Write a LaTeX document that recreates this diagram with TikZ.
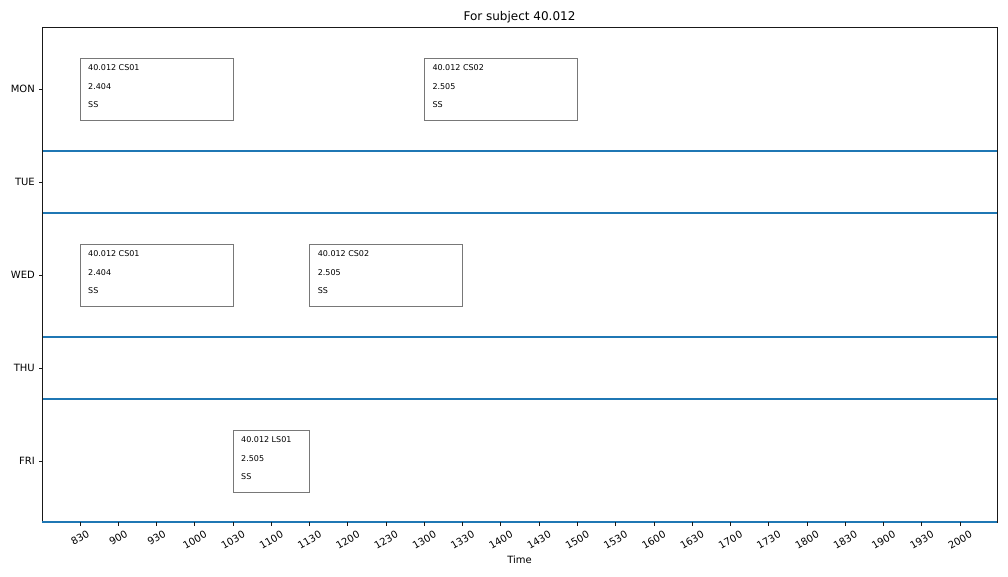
\documentclass[tikz,border=0pt]{standalone}
\usepackage{fontspec}
\setmainfont{DejaVu Sans}
\begin{document}
\begin{tikzpicture}[x=1pt,y=-1pt,
  spine/.style={draw=black!90,line width=0.9pt},
  dayline/.style={draw={rgb,255:red,31;green,119;blue,180},line width=1.5pt},
  slot/.style={draw={rgb,255:red,120;green,120;blue,120},line width=0.8pt},
  slottext/.style={anchor=west,font=\fontsize{8}{9}\selectfont,inner sep=0pt},
  ticklab/.style={rotate=30,font=\fontsize{10}{12}\selectfont,inner sep=0pt},
  daylab/.style={anchor=east,font=\fontsize{10}{12}\selectfont,inner sep=0pt},
  tickmark/.style={draw=black!90,line width=0.8pt}]
\useasboundingbox (0,0) rectangle (1008,576);
\fill[white] (0,0) rectangle (1008,576);
% title and axis label
\node[font=\fontsize{12}{14}\selectfont] (title) at (519.5,17) {For subject 40.012};
\node[font=\fontsize{10}{12}\selectfont] (xlabel) at (519.5,559.5) {Time};
% day separators
\foreach \y in {151,213,337,399} \draw[dayline] (42,\y) -- (997,\y);
% spines
\draw[spine] (42,27) rectangle (997,522);
\draw[dayline] (42,522) -- (997,522);
% y ticks
\foreach \d/\y in {MON/89,TUE/182,WED/275,THU/368,FRI/461}{
  \draw[tickmark] (42,\y) -- (38.5,\y);
  \node[daylab] (day\d) at (35,\y) {\d};
}
% x ticks
\foreach \t [count=\i from 0] in {830,900,930,1000,1030,1100,1130,1200,1230,1300,1330,1400,1430,1500,1530,1600,1630,1700,1730,1800,1830,1900,1930,2000}{
  \pgfmathsetmacro\xx{80+\i*38.26}
  \pgfmathsetmacro\yy{ifthenelse(\t<1000,538,540)}
  \draw[tickmark] (\xx,522) -- (\xx,525.5);
  \node[ticklab] (t\t) at (\xx,\yy) {\t};
}
% class boxes
\newcommand{\slotbox}[6]{%
  \draw[slot] (#2,#4) rectangle (#3,#4+62);
  \node[slottext] (#1a) at (#2+8,#4+10) {#5};
  \node[slottext] (#1b) at (#2+8,#4+29) {#6};
  \node[slottext] (#1c) at (#2+8,#4+47) {SS};
}
\slotbox{monA}{80}{233}{58}{40.012 CS01}{2.404}
\slotbox{monB}{424.3}{577.4}{58}{40.012 CS02}{2.505}
\slotbox{wedA}{80}{233}{244}{40.012 CS01}{2.404}
\slotbox{wedB}{309.6}{462.6}{244}{40.012 CS02}{2.505}
\slotbox{friA}{233}{309.6}{430}{40.012 LS01}{2.505}
\end{tikzpicture}
\end{document}
